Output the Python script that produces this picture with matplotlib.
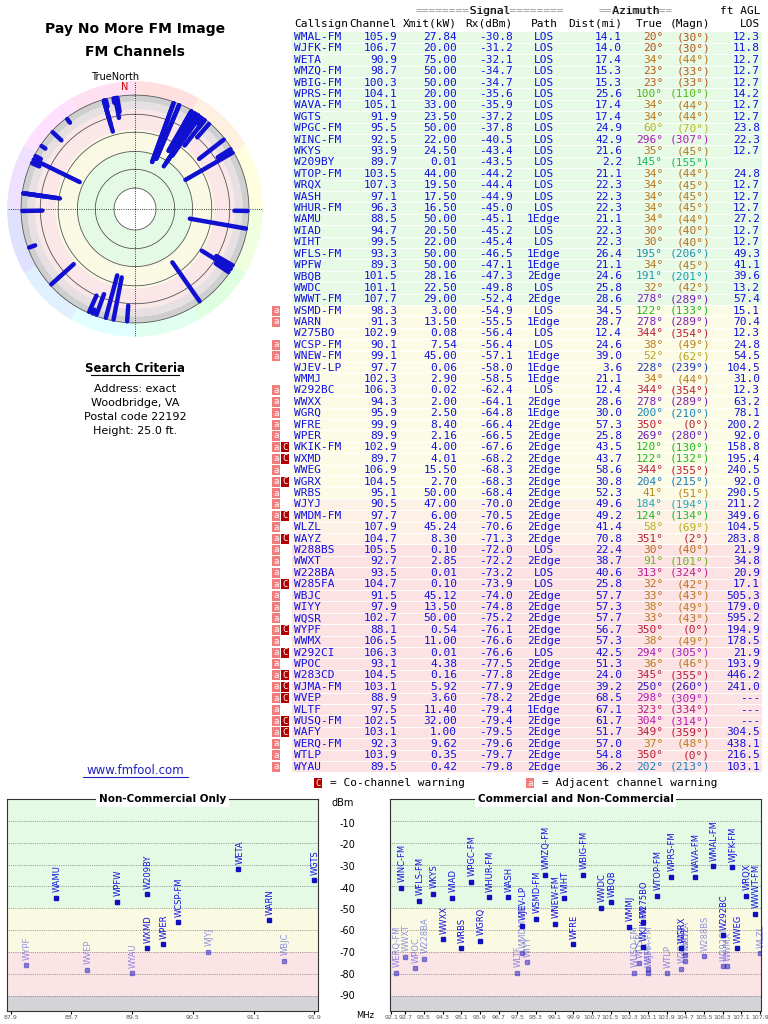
import numpy as np
import matplotlib
matplotlib.use("Agg")
import matplotlib.pyplot as plt
from matplotlib.patches import Rectangle
from matplotlib.colors import hsv_to_rgb

# ---- table data ----
callsign = ["WMAL-FM", "WJFK-FM", "WETA", "WMZQ-FM", "WBIG-FM", "WPRS-FM", "WAVA-FM", "WGTS",
            "WPGC-FM", "WINC-FM", "WKYS", "W209BY", "WTOP-FM", "WRQX", "WASH", "WHUR-FM",
            "WAMU", "WIAD", "WIHT", "WFLS-FM", "WPFW", "WBQB", "WWDC", "WWWT-FM", "WSMD-FM",
            "WARN", "W275BO", "WCSP-FM", "WNEW-FM", "WJEV-LP", "WMMJ", "W292BC", "WWXX",
            "WGRQ", "WFRE", "WPER", "WKIK-FM", "WXMD", "WWEG", "WGRX", "WRBS", "WJYJ",
            "WMDM-FM", "WLZL", "WAYZ", "W288BS", "WWXT", "W228BA", "W285FA", "WBJC", "WIYY",
            "WQSR", "WYPF", "WWMX", "W292CI", "WPOC", "W283CD", "WJMA-FM", "WVEP", "WLTF",
            "WUSQ-FM", "WAFY", "WERQ-FM", "WTLP", "WYAU"]
channel = [105.9, 106.7, 90.9, 98.7, 100.3, 104.1, 105.1, 91.9, 95.5, 92.5, 93.9, 89.7, 103.5,
           107.3, 97.1, 96.3, 88.5, 94.7, 99.5, 93.3, 89.3, 101.5, 101.1, 107.7, 98.3, 91.3,
           102.9, 90.1, 99.1, 97.7, 102.3, 106.3, 94.3, 95.9, 99.9, 89.9, 102.9, 89.7, 106.9,
           104.5, 95.1, 90.5, 97.7, 107.9, 104.7, 105.5, 92.7, 93.5, 104.7, 91.5, 97.9, 102.7,
           88.1, 106.5, 106.3, 93.1, 104.5, 103.1, 88.9, 97.5, 102.5, 103.1, 92.3, 103.9, 89.5]
xmit_kw = [27.84, 20.00, 75.00, 50.00, 50.00, 20.00, 33.00, 23.50, 50.00, 22.00, 24.50, 0.01,
           44.00, 19.50, 17.50, 16.50, 50.00, 20.50, 22.00, 50.00, 50.00, 28.16, 22.50, 29.00,
           3.00, 13.50, 0.08, 7.54, 45.00, 0.06, 2.90, 0.02, 2.00, 2.50, 8.40, 2.16, 4.00, 4.01,
           15.50, 2.70, 50.00, 47.00, 6.00, 45.24, 8.30, 0.10, 2.85, 0.01, 0.10, 45.12, 13.50,
           50.00, 0.54, 11.00, 0.01, 4.38, 0.16, 5.92, 3.60, 11.40, 32.00, 1.00, 9.62, 0.35, 0.42]
rx_dbm = [-30.8, -31.2, -32.1, -34.7, -34.7, -35.6, -35.9, -37.2, -37.8, -40.5, -43.4, -43.5,
          -44.2, -44.4, -44.9, -45.0, -45.1, -45.2, -45.4, -46.5, -47.1, -47.3, -49.8, -52.4,
          -54.9, -55.5, -56.4, -56.4, -57.1, -58.0, -58.5, -62.4, -64.1, -64.8, -66.4, -66.5,
          -67.6, -68.2, -68.3, -68.3, -68.4, -70.0, -70.5, -70.6, -71.3, -72.0, -72.2, -73.2,
          -73.9, -74.0, -74.8, -75.2, -76.1, -76.6, -76.6, -77.5, -77.8, -77.9, -78.2, -79.4,
          -79.4, -79.5, -79.6, -79.7, -79.8]
path = ["LOS"] * 16 + ["1Edge", "LOS", "LOS", "1Edge", "1Edge", "2Edge", "LOS", "2Edge",
        "LOS", "1Edge", "LOS", "LOS", "1Edge", "1Edge", "1Edge", "LOS", "2Edge", "1Edge",
        "2Edge", "2Edge", "2Edge", "2Edge", "2Edge", "2Edge", "2Edge", "2Edge", "2Edge",
        "2Edge", "2Edge", "LOS", "2Edge", "LOS", "LOS", "2Edge", "2Edge", "2Edge", "2Edge",
        "2Edge", "LOS", "2Edge", "2Edge", "2Edge", "2Edge", "1Edge", "2Edge", "2Edge",
        "2Edge", "2Edge", "2Edge"]
dist_mi = [14.1, 14.0, 17.4, 15.3, 15.3, 25.6, 17.4, 17.4, 24.9, 42.9, 21.6, 2.2, 21.1, 22.3,
           22.3, 22.3, 21.1, 22.3, 22.3, 26.4, 21.1, 24.6, 25.8, 28.6, 34.5, 28.7, 12.4, 24.6,
           39.0, 3.6, 21.1, 12.4, 28.6, 30.0, 57.3, 25.8, 43.5, 43.7, 58.6, 30.8, 52.3, 49.6,
           49.2, 41.4, 70.8, 22.4, 38.7, 40.6, 25.8, 57.7, 57.3, 57.7, 56.7, 57.3, 42.5, 51.3,
           24.0, 39.2, 68.5, 67.1, 61.7, 51.7, 57.0, 54.8, 36.2]
az_true = [20, 20, 34, 23, 23, 100, 34, 34, 60, 296, 35, 145, 34, 34, 34, 34, 34, 30, 30, 195,
           34, 191, 32, 278, 122, 278, 344, 38, 52, 228, 34, 344, 278, 200, 350, 269, 120, 122,
           344, 204, 41, 184, 124, 58, 351, 30, 91, 313, 32, 33, 38, 33, 350, 38, 294, 36, 345,
           250, 298, 323, 304, 349, 37, 350, 202]
az_magn = [30, 30, 44, 33, 33, 110, 44, 44, 70, 307, 45, 155, 44, 45, 45, 45, 44, 40, 40, 206,
           45, 201, 42, 289, 133, 289, 354, 49, 62, 239, 44, 354, 289, 210, 0, 280, 130, 132,
           355, 215, 51, 194, 134, 69, 2, 40, 101, 324, 42, 43, 49, 43, 0, 49, 305, 46, 355,
           260, 309, 334, 314, 359, 48, 0, 213]
agl_ft = ["12.3", "11.8", "12.7", "12.7", "12.7", "14.2", "12.7", "12.7", "23.8", "22.3", "12.7",
          "", "24.8", "12.7", "12.7", "12.7", "27.2", "12.7", "12.7", "49.3", "41.1", "39.6",
          "13.2", "57.4", "15.1", "70.4", "12.3", "24.8", "54.5", "104.5", "31.0", "12.3", "63.2",
          "78.1", "200.2", "92.0", "158.8", "195.4", "240.5", "92.0", "290.5", "211.2", "349.6",
          "104.5", "283.8", "21.9", "34.8", "20.9", "17.1", "505.3", "179.0", "595.2", "194.9",
          "178.5", "21.9", "193.9", "446.2", "241.0", "---", "---", "---", "304.5", "438.1",
          "216.5", "103.1"]
adj_warn = [0] * 24 + [1, 1, 0, 1, 1, 0, 0] + [1] * 34
co_warn = [0] * 36 + [1, 1, 0, 1, 0, 0, 1, 0, 1, 0, 0, 0, 1, 0, 0, 0, 1, 0, 1, 0, 1, 1, 1, 0,
                      1, 1, 0, 0, 0]

left_ticks = [87.9, 88.7, 89.5, 90.3, 91.1, 91.9]
right_ticks = [92.1, 92.7, 93.5, 94.3, 95.1, 95.9, 96.7, 97.5, 98.3, 99.1, 99.9, 100.7, 101.5,
               102.3, 103.1, 103.9, 104.7, 105.5, 106.3, 107.1, 107.9]
dbm_ticks = [-10, -20, -30, -40, -50, -60, -70, -80, -90]

MONO = "DejaVu Sans Mono"
BLUE = "#1010e0"


def az_color(a):
    return hsv_to_rgb((a / 360.0, 0.85, 0.72))


def row_bg(rx):
    if rx > -53:
        return "#e6fae6"
    if rx > -69.5:
        return "#fcfce6"
    if rx > -71.5:
        return "#fdf0e4"
    return "#fde2e4"


fig = plt.figure(figsize=(7.68, 10.24), dpi=100)
cv = fig.add_axes([0, 0, 1, 1])
cv.set_xlim(0, 768)
cv.set_ylim(1024, 0)
cv.axis("off")

# ---- left panel text ----
cv.text(135, 29, "Pay No More FM Image", ha="center", va="center", fontsize=10, fontweight="bold")
cv.text(135, 52, "FM Channels", ha="center", va="center", fontsize=10, fontweight="bold")
cv.text(115, 77, "TrueNorth", ha="center", va="center", fontsize=7)
cv.text(135, 368, "Search Criteria", ha="center", va="center", fontsize=8.5, fontweight="bold")
cv.plot([91, 179], [375, 375], color="black", lw=0.8)
for yy, s in zip([389, 403, 417, 431], ["Address: exact", "Woodbridge, VA",
                                         "Postal code 22192", "Height: 25.0 ft."]):
    cv.text(135, yy, s, ha="center", va="center", fontsize=8)
cv.text(135, 770, "www.fmfool.com", ha="center", va="center", fontsize=8.5, color="#2020c0")
cv.plot([83, 188], [777, 777], color="#2020c0", lw=0.8)

# ---- table ----
fs = 8
y0, dy = 37, 11.4
cv.text(490, 11, "========Signal========", ha="center", va="center", fontsize=fs,
        family=MONO, color="#999999")
cv.text(490, 11, "        Signal        ", ha="center", va="center", fontsize=fs, family=MONO)
cv.text(636, 11, "==Azimuth==", ha="center", va="center", fontsize=fs, family=MONO, color="#999999")
cv.text(636, 11, "  Azimuth  ", ha="center", va="center", fontsize=fs, family=MONO)
cv.text(760, 11, "ft AGL", ha="right", va="center", fontsize=fs, family=MONO)
hdr = [(294, "left", "Callsign"), (397, "right", "Channel"), (457, "right", "Xmit(kW)"),
       (513, "right", "Rx(dBm)"), (544, "center", "Path"), (622, "right", "Dist(mi)"),
       (663, "right", "True"), (710, "right", "(Magn)"), (760, "right", "LOS")]
for x, ha, s in hdr:
    cv.text(x, 24, s, ha=ha, va="center", fontsize=fs, family=MONO)

for i in range(len(callsign)):
    y = y0 + i * dy
    cv.add_patch(Rectangle((291, y - dy / 2), 471, dy, facecolor=row_bg(rx_dbm[i]),
                           edgecolor="white", lw=0.6))
    if adj_warn[i]:
        cv.add_patch(Rectangle((272, y - 5), 8, 10, facecolor="#f07c7c", edgecolor="none"))
        cv.text(276, y, "a", ha="center", va="center", fontsize=6.5, color="white", family=MONO)
    if co_warn[i]:
        cv.add_patch(Rectangle((281, y - 5), 8, 10, facecolor="#b00000", edgecolor="none"))
        cv.text(285, y, "C", ha="center", va="center", fontsize=6.5, color="white", family=MONO)
    kw = dict(va="center", fontsize=fs, family=MONO, color=BLUE)
    cv.text(294, y, callsign[i], ha="left", **kw)
    cv.text(397, y, f"{channel[i]:.1f}", ha="right", **kw)
    cv.text(457, y, f"{xmit_kw[i]:.2f}", ha="right", **kw)
    cv.text(513, y, f"{rx_dbm[i]:.1f}", ha="right", **kw)
    cv.text(544, y, path[i], ha="center", **kw)
    cv.text(622, y, f"{dist_mi[i]:.1f}", ha="right", **kw)
    c = az_color(az_true[i])
    cv.text(663, y, f"{az_true[i]}°", ha="right", va="center", fontsize=fs, family=MONO, color=c)
    cv.text(710, y, f"({az_magn[i]}°)", ha="right", va="center", fontsize=fs, family=MONO, color=c)
    cv.text(760, y, agl_ft[i], ha="right", **kw)

cv.add_patch(Rectangle((314, 778), 8, 10, facecolor="#b00000"))
cv.text(318, 783, "C", ha="center", va="center", fontsize=6.5, color="white", family=MONO)
cv.text(330, 783, "= Co-channel warning", ha="left", va="center", fontsize=fs, family=MONO)
cv.add_patch(Rectangle((526, 778), 8, 10, facecolor="#f07c7c"))
cv.text(530, 783, "a", ha="center", va="center", fontsize=6.5, color="white", family=MONO)
cv.text(542, 783, "= Adjacent channel warning", ha="left", va="center", fontsize=fs, family=MONO)

# ---- polar plot ----
cx, cy, R = 135, 209, 128
pax = fig.add_axes([(cx - R) / 768, 1 - (cy + R) / 1024, 2 * R / 768, 2 * R / 1024],
                   projection="polar")
pax.set_theta_zero_location("N")
pax.set_theta_direction(-1)
pax.set_ylim(0, 1)
pax.axis("off")
for k in range(12):
    pax.bar(np.deg2rad(k * 30 + 15), 0.11, width=np.deg2rad(30), bottom=0.89,
            color=hsv_to_rgb((k / 12.0, 0.12, 1.0)), edgecolor="none")
rings = [(0.164, 0.45, "#e4fae4"), (0.45, 0.62, "#fafae4"), (0.62, 0.78, "#fbe6e8"),
         (0.78, 0.84, "#e6e0e2"), (0.84, 0.89, "#cfcfcf")]
for r0, r1, col in rings:
    pax.bar(0, r1 - r0, width=2 * np.pi, bottom=r0, color=col, edgecolor="none")
th = np.linspace(0, 2 * np.pi, 200)
for r in [0.164, 0.31, 0.45, 0.60, 0.74, 0.89]:
    pax.plot(th, np.full_like(th, r), color="#555555", lw=0.6)
for a in [0, np.pi / 2, np.pi, 3 * np.pi / 2]:
    pax.plot([a, a], [0, 1.0], color="black", lw=0.6, ls=":", clip_on=False)
for a, rx in zip(az_true, rx_dbm):
    rin = 0.39 + (-30.8 - rx) / 49.2 * 0.46
    pax.plot([np.deg2rad(a)] * 2, [rin, 0.88], color="#1010d0", lw=3.2, solid_capstyle="round")
pax.text(np.deg2rad(-5), 0.96, "N", color="#cc0000", ha="center", va="center", fontsize=7)


# ---- spectrum ----
def spectrum(rect, lo, hi, ticks, title):
    ax = fig.add_axes(rect)
    ax.set_xlim(lo - 0.05, hi + 0.05)
    ax.set_ylim(-97, 0)
    ax.axhspan(-50, 0, color="#e4fae4", lw=0)
    ax.axhspan(-70, -50, color="#fafae2", lw=0)
    ax.axhspan(-90, -70, color="#fbe4e6", lw=0)
    ax.axhspan(-97, -90, color="#d4d4d8", lw=0)
    for t in dbm_ticks:
        ax.axhline(t, color="#555555", lw=0.5, ls=":")
    ax.set_yticks([])
    ax.set_xticks(ticks)
    ax.set_xticklabels([f"{t:.1f}" for t in ticks], fontsize=4.5, color="#555555")
    ax.tick_params(axis="x", length=2, pad=1)
    for s in ["top", "right", "left", "bottom"]:
        ax.spines[s].set_color("#333333")
    for f, rx, name in zip(channel, rx_dbm, callsign):
        if lo - 0.01 <= f <= hi + 0.01:
            al = 1.0 if rx > -70 else 0.45
            ax.plot(f, rx, marker="s", ms=3.2, color="#1010c0", alpha=al, ls="none")
            ax.annotate(name, (f, rx), xytext=(1, 4), textcoords="offset points",
                        rotation=90, ha="center", va="bottom", fontsize=6, color="#1010e0",
                        alpha=al)
    ax.text(0.5, 1.0, title, transform=ax.transAxes, ha="center", va="center",
            fontsize=7.5, fontweight="bold",
            bbox=dict(facecolor="white", edgecolor="none", pad=2))
    return ax


spectrum([7 / 768, 1 - 1011 / 1024, 311 / 768, 212 / 1024], 87.9, 91.9, left_ticks,
         "Non-Commercial Only")
spectrum([390 / 768, 1 - 1011 / 1024, 371 / 768, 212 / 1024], 92.1, 107.9, right_ticks,
         "Commercial and Non-Commercial")
cv.text(343, 803, "dBm", ha="center", va="center", fontsize=7)
for t in dbm_ticks:
    cv.text(355, 802.5 - t * 2.15, str(t), ha="right", va="center", fontsize=7)
cv.text(365, 1016, "MHz", ha="center", va="center", fontsize=6)

fig.savefig("out.png", dpi=100)
